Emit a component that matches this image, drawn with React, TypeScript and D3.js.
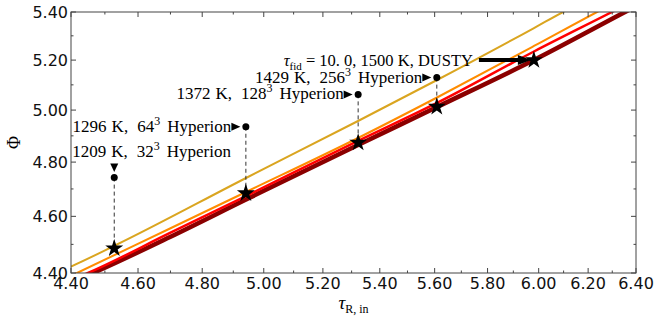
import React from 'react';
import * as d3 from 'd3';

// DUSTY curves, Phi vs tau_R,in
const goldTau = [4.38, 4.4, 4.5273, 4.9415, 5.3225, 5.6088, 5.9814, 6.0976, 6.13];
const goldPhi = [4.412, 4.4225, 4.4942, 4.7405, 4.9574, 5.1194, 5.3326, 5.4, 5.418];
const orangeTau = [4.40, 4.4175, 4.6986, 4.9415, 5.3225, 5.6088, 5.9814, 6.2366, 6.27];
const orangePhi = [4.39, 4.4, 4.5564, 4.6887, 4.8917, 5.0496, 5.2579, 5.4, 5.418];
const redTau = [4.43, 4.4499, 4.6986, 4.9415, 5.3225, 5.6088, 5.9814, 6.299, 6.33];
const redPhi = [4.39, 4.4, 4.5403, 4.674, 4.8802, 5.0279, 5.2352, 5.4, 5.416];
const darkTau = [4.445, 4.4647, 4.6986, 4.9415, 5.3225, 5.6088, 5.9814, 6.3535, 6.38];
const darkPhi = [4.39, 4.4, 4.5261, 4.6612, 4.8649, 5.0121, 5.2004, 5.4, 5.414];

// fiducial (stars) and Hyperion runs (circles)
const starTau = [4.528, 4.941, 5.323, 5.608, 5.981];
const starPhi = [4.486, 4.684, 4.874, 5.013, 5.2];
const hypTau = [4.528, 4.941, 5.323, 5.608];
const hypPhi = [4.742, 4.935, 5.062, 5.129];
const hypTemp = ['1209', '1296', '1372', '1429'];
const hypRes = ['32', '64', '128', '256'];

const xTicks = [4.4, 4.6, 4.8, 5.0, 5.2, 5.4, 5.6, 5.8, 6.0, 6.2, 6.4];
const xMinor = [4.5, 4.7, 4.9, 5.1, 5.3, 5.5, 5.7, 5.9, 6.1, 6.3];
const yTicks = [4.4, 4.6, 4.8, 5.0, 5.2, 5.4];
const yMinor = [4.5, 4.7, 4.9, 5.1, 5.3];

const W = 657, H = 320;
const m = { left: 71, right: 636, top: 12, bottom: 273 };
const serif = '"Liberation Serif", "DejaVu Serif", serif';
const sans = '"DejaVu Sans", sans-serif';

function HypLabel({ i }: { i: number }) {
  return (
    <>
      <tspan>{hypTemp[i]}</tspan>
      <tspan dx={5}>K,</tspan>
      <tspan dx={9}>{hypRes[i]}</tspan>
      <tspan dy={-7} fontSize={12}>3</tspan>
      <tspan dy={7} dx={7}>Hyperion</tspan>
    </>
  );
}

export default function App() {
  const x = d3.scaleLog().domain([4.4, 6.4]).range([m.left, m.right]);
  const y = d3.scaleLog().domain([4.4, 5.4]).range([m.bottom, m.top]);
  const line = (tx: number[], ty: number[]) =>
    d3.line<number>().x((_, i) => x(tx[i])).y((_, i) => y(ty[i])).curve(d3.curveMonotoneX)(tx) || '';

  const star = d3.symbol().type(d3.symbolStar).size(100)() || '';
  const series = [
    { tx: darkTau, ty: darkPhi, c: '#8b0000', w: 4.5 },
    { tx: redTau, ty: redPhi, c: '#ff0000', w: 2.5 },
    { tx: orangeTau, ty: orangePhi, c: '#ff8c00', w: 2 },
    { tx: goldTau, ty: goldPhi, c: '#daa520', w: 2 },
  ];

  return (
    <svg width={W} height={H} style={{ position: 'absolute', left: 0, top: 0, background: '#fff' }}>
      <defs>
        <clipPath id="plot">
          <rect x={m.left} y={m.top} width={m.right - m.left} height={m.bottom - m.top} />
        </clipPath>
      </defs>
      <g clipPath="url(#plot)">
        {series.map((s, i) => (
          <path key={i} d={line(s.tx, s.ty)} fill="none" stroke={s.c} strokeWidth={s.w} />
        ))}
      </g>

      {/* dashed connectors */}
      {hypTau.map((t, i) => (
        <line key={'d' + i} x1={x(t)} x2={x(t)} y1={y(hypPhi[i])} y2={y(starPhi[i])}
          stroke="#333" strokeWidth={1} strokeDasharray="4,3" />
      ))}
      {starTau.map((t, i) => (
        <path key={'s' + i} d={star} transform={`translate(${x(t)},${y(starPhi[i])})`} fill="#000" />
      ))}
      {hypTau.map((t, i) => (
        <circle key={'c' + i} cx={x(t)} cy={y(hypPhi[i])} r={3.5} fill="#000" />
      ))}

      {/* annotations */}
      {hypTau.map((t, i) => {
        const cx = x(t), cy = y(hypPhi[i]);
        if (i === 0) {
          return (
            <g key={'a' + i}>
              <path d={`M${cx - 4},${cy - 14} L${cx + 4},${cy - 14} L${cx},${cy - 5.5} Z`} fill="#000" />
              <text x={cx - 42} y={cy - 21} fontFamily={serif} fontSize={17} fill="#000">
                <HypLabel i={i} />
              </text>
            </g>
          );
        }
        return (
          <g key={'a' + i}>
            <path d={`M${cx - 14.5},${cy - 4} L${cx - 14.5},${cy + 4} L${cx - 5.5},${cy} Z`} fill="#000" />
            <text x={cx - 14.5} y={cy + 5} textAnchor="end" fontFamily={serif} fontSize={17} fill="#000">
              <HypLabel i={i} />
            </text>
          </g>
        );
      })}
      {(() => {
        const sx = x(starTau[4]), sy = y(starPhi[4]);
        return (
          <g>
            <line x1={sx - 55} x2={sx - 14} y1={sy} y2={sy} stroke="#000" strokeWidth={4} />
            <path d={`M${sx - 16},${sy - 5} L${sx - 16},${sy + 5} L${sx - 3},${sy} Z`} fill="#000" />
            <text x={sx - 61} y={sy + 6} textAnchor="end" fontFamily={serif} fontSize={16.5} fill="#000" style={{ whiteSpace: 'pre' }}>
              <tspan fontStyle="italic">τ</tspan><tspan dy={4} fontSize={11}>fid</tspan><tspan dy={-4}> = 10. 0, 1500 K, DUSTY</tspan>
            </text>
          </g>
        );
      })()}

      {/* frame and ticks */}
      <rect x={m.left} y={m.top} width={m.right - m.left} height={m.bottom - m.top} fill="none" stroke="#444" strokeWidth={1} />
      {xTicks.map(t => (
        <g key={'xt' + t}>
          <line x1={x(t)} x2={x(t)} y1={m.bottom} y2={m.bottom - 5} stroke="#444" />
          <line x1={x(t)} x2={x(t)} y1={m.top} y2={m.top + 5} stroke="#444" />
          <text x={x(t)} y={m.bottom + 16} textAnchor="middle" fontFamily={sans} fontSize={16} fill="#111">{t.toFixed(2)}</text>
        </g>
      ))}
      {xMinor.map(t => (
        <g key={'xm' + t}>
          <line x1={x(t)} x2={x(t)} y1={m.bottom} y2={m.bottom - 2.5} stroke="#444" />
          <line x1={x(t)} x2={x(t)} y1={m.top} y2={m.top + 2.5} stroke="#444" />
        </g>
      ))}
      {yTicks.map(t => (
        <g key={'yt' + t}>
          <line x1={m.left} x2={m.left + 5} y1={y(t)} y2={y(t)} stroke="#444" />
          <line x1={m.right} x2={m.right - 5} y1={y(t)} y2={y(t)} stroke="#444" />
          <text x={m.left - 3} y={y(t) + 6} textAnchor="end" fontFamily={sans} fontSize={16} fill="#111">{t.toFixed(2)}</text>
        </g>
      ))}
      {yMinor.map(t => (
        <g key={'ym' + t}>
          <line x1={m.left} x2={m.left + 2.5} y1={y(t)} y2={y(t)} stroke="#444" />
          <line x1={m.right} x2={m.right - 2.5} y1={y(t)} y2={y(t)} stroke="#444" />
        </g>
      ))}

      {/* axis labels */}
      <text transform={`translate(20,${(m.top + m.bottom) / 2}) rotate(-90)`} textAnchor="middle" fontFamily={serif} fontSize={18} fill="#000">Φ</text>
      <text x={(m.left + m.right) / 2} y={309} textAnchor="middle" fontFamily={serif} fontSize={19} fill="#000">
        <tspan fontStyle="italic">τ</tspan><tspan dy={4} fontSize={12}>R, in</tspan>
      </text>
    </svg>
  );
}
